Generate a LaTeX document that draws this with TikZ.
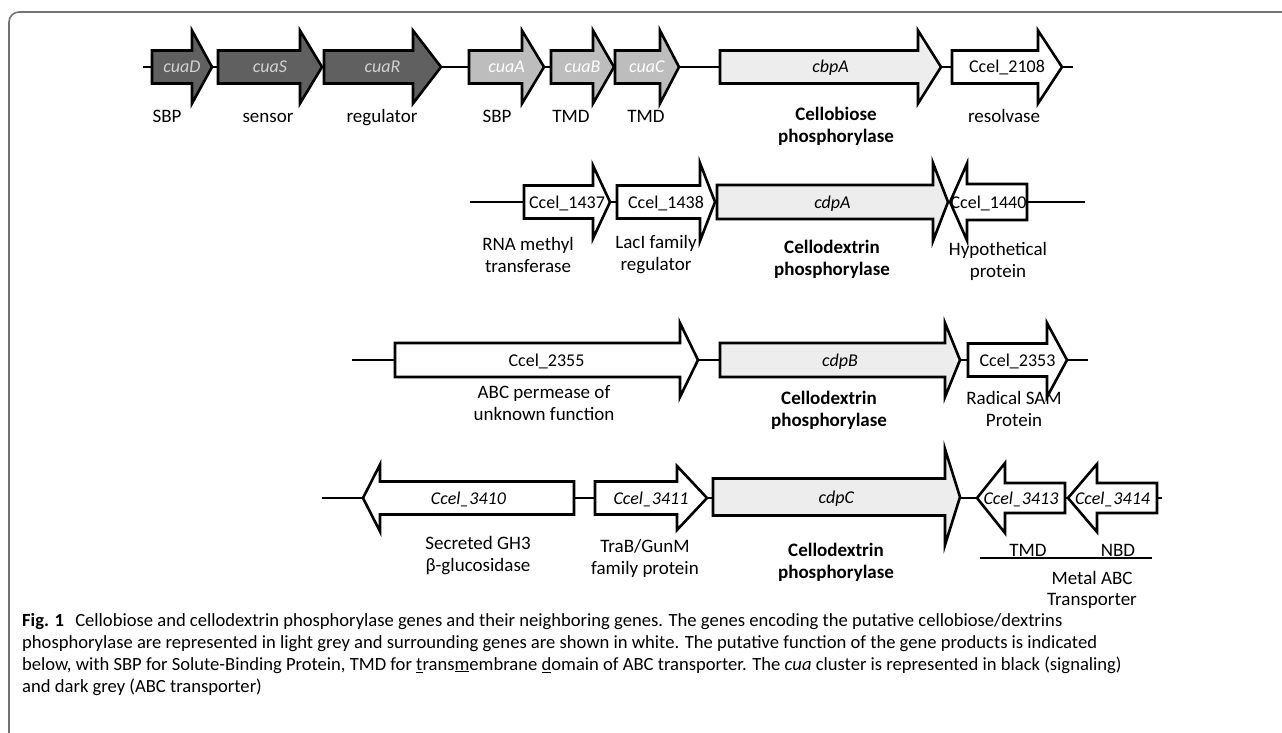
\documentclass[tikz,border=0pt]{standalone}
\usepackage{fontspec}
\setmainfont{Carlito}
\usetikzlibrary{positioning}

\definecolor{sigfill}{HTML}{606060}
\definecolor{abcfill}{HTML}{BDBDBD}
\definecolor{phosfill}{HTML}{EDEDED}

% forward gene: name, x left, x head, x tip, y, body half, head half, kind, text
\newcommand{\fwdgene}[9]{%
  \draw[gene,#8] ({#2},{#5-#6}) -- ({#3},{#5-#6}) -- ({#3},{#5-#7}) -- ({#4},{#5})
    -- ({#3},{#5+#7}) -- ({#3},{#5+#6}) -- ({#2},{#5+#6}) -- cycle;
  \node[gtxt,#8 txt] (#1) at ({(#2+#4)/2},{#5}) {#9};
  \coordinate (#1-w) at ({#2},{#5});
  \coordinate (#1-e) at ({#4},{#5});
}
% reverse gene: name, x tip, x head, x right, y, body half, head half, kind, text
\newcommand{\revgene}[9]{%
  \draw[gene,#8] ({#4},{#5-#6}) -- ({#3},{#5-#6}) -- ({#3},{#5-#7}) -- ({#2},{#5})
    -- ({#3},{#5+#7}) -- ({#3},{#5+#6}) -- ({#4},{#5+#6}) -- cycle;
  \node[gtxt,#8 txt] (#1) at ({(#2+#4)/2},{#5}) {#9};
  \coordinate (#1-w) at ({#2},{#5});
  \coordinate (#1-e) at ({#4},{#5});
}

\begin{document}
\begin{tikzpicture}[
        x=1pt, y=-1pt,
        gene/.style={draw=black, line width=2.6pt, line join=miter, miter limit=20},
        sig/.style={fill=sigfill},
        abc/.style={fill=abcfill},
        phos/.style={fill=phosfill},
        nb/.style={fill=white},
        sig txt/.style={text=white!82!black},
        abc txt/.style={text=white},
        phos txt/.style={text=black},
        nb txt/.style={text=black},
        gtxt/.style={font=\fontsize{18}{20}\selectfont, inner sep=0pt, text height=12pt, text depth=0pt},
        lbl/.style={font=\fontsize{19}{22}\selectfont, align=center, anchor=north, inner sep=0pt, execute at begin node=\strut},
        link/.style={draw=black, line width=1.3pt},
        frame/.style={draw=black!55, line width=1.6pt}
    ]
        \useasboundingbox (0,0) rectangle (1282,733);
        \draw[frame] (9,733) -- (9,22) arc[start angle=180, end angle=270, radius=10] -- (1282,12);

        % cua cluster and cbpA
        \coordinate (r1s) at (143,67);
        \coordinate (r1t) at (1073,67);
        \draw[link] (r1s) -- (r1t);
        \fwdgene{cuaD}{152}{192}{212}{67}{16.5}{36.5}{sig}{\textit{cuaD}}
        \fwdgene{cuaS}{218}{300}{322}{67}{16.5}{36.5}{sig}{\textit{cuaS}}
        \fwdgene{cuaR}{324}{413}{441}{67}{16.5}{36.5}{sig}{\textit{cuaR}}
        \fwdgene{cuaA}{469}{522}{544}{67}{16.5}{36.5}{abc}{\textit{cuaA}}
        \fwdgene{cuaB}{551}{593}{614}{67}{16.5}{36.5}{abc}{\textit{cuaB}}
        \fwdgene{cuaC}{615}{660}{679}{67}{16.5}{36.5}{abc}{\textit{cuaC}}
        \fwdgene{cbpA}{720}{918}{941}{67}{16.5}{36.5}{phos}{\textit{cbpA}}
        \fwdgene{c2108}{952}{1038}{1062}{67}{16.5}{36.5}{nb}{Ccel\_2108}

        \node[lbl] (fD) at (167,106.5) {SBP};
        \node[lbl] (fS) at (268,106.5) {sensor};
        \node[lbl] (fR) at (382,106.5) {regulator};
        \node[lbl] (fA) at (497,106.5) {SBP};
        \node[lbl] (fB) at (571,106.5) {TMD};
        \node[lbl] (fC) at (646,106.5) {TMD};
        \node[lbl] (fcbpA) at (836,106.5) {\textbf{Cellobiose}\\\textbf{phosphorylase}};
        \node[lbl] (f2108) at (1004,106.5) {resolvase};

        % cdpA
        \coordinate (r2s) at (470,202);
        \coordinate (r2t) at (1085,202);
        \draw[link] (r2s) -- (r2t);
        \fwdgene{c1437}{524}{593}{610}{202}{16.5}{36.5}{nb}{Ccel\_1437}
        \fwdgene{c1438}{617}{700}{715}{202}{16.5}{39}{nb}{Ccel\_1438}
        \fwdgene{cdpA}{717}{933}{948}{202}{17}{39}{phos}{\textit{cdpA}}
        \revgene{c1440}{950}{967}{1027}{202}{18}{38.5}{nb}{Ccel\_1440}

        \node[lbl] (f1437) at (528,237) {RNA methyl\\transferase};
        \node[lbl] (f1438) at (656,235) {LacI family\\regulator};
        \node[lbl] (fcdpA) at (832,240) {\textbf{Cellodextrin}\\\textbf{phosphorylase}};
        \node[lbl] (f1440) at (998,242) {Hypothetical\\protein};

        % cdpB
        \coordinate (r3s) at (352,360);
        \coordinate (r3t) at (1088,360);
        \draw[link] (r3s) -- (r3t);
        \fwdgene{c2355}{395}{680}{698}{360}{17}{37}{nb}{Ccel\_2355}
        \fwdgene{cdpB}{720}{945}{960}{360}{17}{37}{phos}{\textit{cdpB}}
        \fwdgene{c2353}{968}{1047}{1067}{360}{16.5}{37}{nb}{Ccel\_2353}

        \node[lbl] (f2355) at (544,385) {ABC permease of\\unknown function};
        \node[lbl] (fcdpB) at (829,391) {\textbf{Cellodextrin}\\\textbf{phosphorylase}};
        \node[lbl] (f2353) at (1014,391) {Radical SAM\\Protein};

        % cdpC
        \coordinate (r4s) at (322,498);
        \coordinate (r4t) at (1162,498);
        \draw[link] (r4s) -- (r4t);
        \revgene{c3410}{363}{380}{574}{498}{16.5}{33.5}{nb}{\textit{Ccel\_3410}}
        \fwdgene{c3411}{595}{677}{707}{498}{16.5}{32}{nb}{\textit{Ccel\_3411}}
        \fwdgene{cdpC}{713}{945}{960}{497}{18.5}{48}{phos}{\textit{cdpC}}
        \revgene{c3413}{977}{1005}{1065}{498}{15}{35}{nb}{\textit{Ccel\_3413}}
        \revgene{c3414}{1068}{1097}{1157}{498}{15}{34}{nb}{\textit{Ccel\_3414}}

        \node[lbl] (f3410) at (478,536) {Secreted GH3\\β-glucosidase};
        \node[lbl] (f3411) at (645,539) {TraB/GunM\\family protein};
        \node[lbl] (fcdpC) at (836,543) {\textbf{Cellodextrin}\\\textbf{phosphorylase}};
        \node[lbl] (f3413) at (1028,540.5) {TMD};
        \node[lbl] (f3414) at (1118,540.5) {NBD};
        \coordinate (mts) at (980,558);
        \coordinate (mtt) at (1152,558);
        \draw[link] (mts) -- (mtt);
        \node[lbl, font=\fontsize{19}{21}\selectfont] (fmetal) at (1092,571) {Metal ABC\\Transporter};

        % caption
        \node[lbl, anchor=north west, align=left, font=\fontsize{18.6}{22}\selectfont] (caption) at (22,613)
          {\textbf{Fig. 1}\hspace{0.6em}Cellobiose and cellodextrin phosphorylase genes and their neighboring genes. The genes encoding the putative cellobiose/dextrins\\
           phosphorylase are represented in light grey and surrounding genes are shown in white. The putative function of the gene products is indicated\\
           below, with SBP for Solute-Binding Protein, TMD for \underline{t}rans\underline{m}embrane \underline{d}omain of ABC transporter. The \textit{cua} cluster is represented in black (signaling)\\
           and dark grey (ABC transporter)};
    \end{tikzpicture}
\end{document}
